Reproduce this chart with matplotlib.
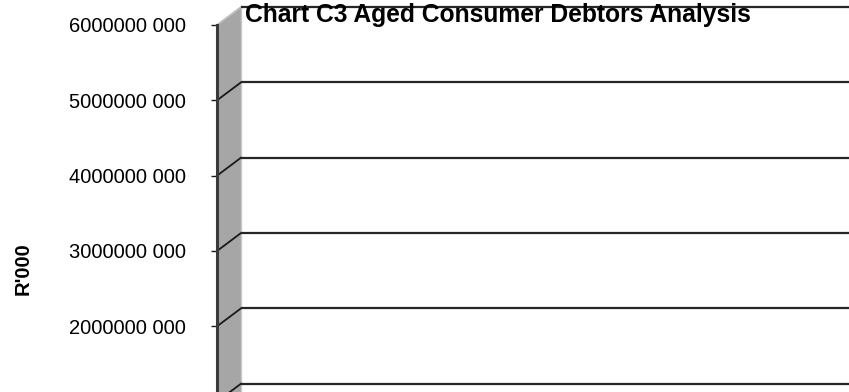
import matplotlib
matplotlib.use('Agg')
import matplotlib.pyplot as plt
from matplotlib.patches import Polygon

# values of the y gridlines and their labels (empty chart, only the walls drawn)
grid_values = [1e9, 2e9, 3e9, 4e9, 5e9, 6e9]
tick_values = [2e9, 3e9, 4e9, 5e9, 6e9]
tick_labels = ['2000000 000', '3000000 000', '4000000 000',
               '5000000 000', '6000000 000']
title = 'Chart C3 Aged Consumer Debtors Analysis'
y_label = "R'000"

W, H = 849, 392
fig = plt.figure(figsize=(W / 100, H / 100), dpi=100)

# front plane: x 217..849 px, value 0 at px 477, 6e9 at px 25
ax = fig.add_axes([217 / W, (H - 477) / H, (W - 217) / W, (477 - 25) / H])
ax.set_xlim(0, 1)
ax.set_ylim(0, 6e9)
ax.set_facecolor('none')
for s in ax.spines.values():
    s.set_visible(False)

# 3d depth offset (24 px right, 18 px up)
dx = 24 / (W - 217)
dy = 18 / 75.4 * 1e9

# side wall
wall = Polygon([(0, 0), (0, 6e9), (dx, 6e9 + dy), (dx, dy)], closed=True,
               facecolor='#a6a6a6', edgecolor='none', clip_on=False, zorder=1)
ax.add_patch(wall)
ax.plot([dx, dx], [dy, 6e9 + dy], color='#c8c8c8', lw=1, clip_on=False, zorder=2)

for v in grid_values:
    slant_color = '#bdbdbd' if v == max(grid_values) else '#1a1a1a'
    ax.plot([0, dx], [v, v + dy], color=slant_color, lw=1.3, clip_on=False, zorder=3)
    ax.plot([dx, 1.05], [v + dy, v + dy], color='#262626', lw=1.6,
            clip_on=False, zorder=3, solid_capstyle='butt')

# front edge of the wall
ax.plot([0, 0], [0, 6e9], color='#3a3a3a', lw=2.2, clip_on=False, zorder=4)

ax.set_xticks([])
ax.set_yticks(tick_values)
ax.set_yticklabels(tick_labels, family=['Liberation Sans', 'DejaVu Sans'],
                   fontsize=14.5)
ax.tick_params(axis='y', length=4.3, width=1, color='#1a1a1a', pad=18)

fig.text(498 / W, 1 - 22 / H, title, ha='center', va='baseline',
         fontsize=17.7, fontweight='bold', family=['Liberation Sans', 'DejaVu Sans'])
fig.text(23 / W, 1 - 269 / H, y_label, ha='center', va='center', rotation=90,
         fontsize=14.5, fontweight='bold', family=['Liberation Sans', 'DejaVu Sans'])

fig.savefig('out.png', dpi=100)
